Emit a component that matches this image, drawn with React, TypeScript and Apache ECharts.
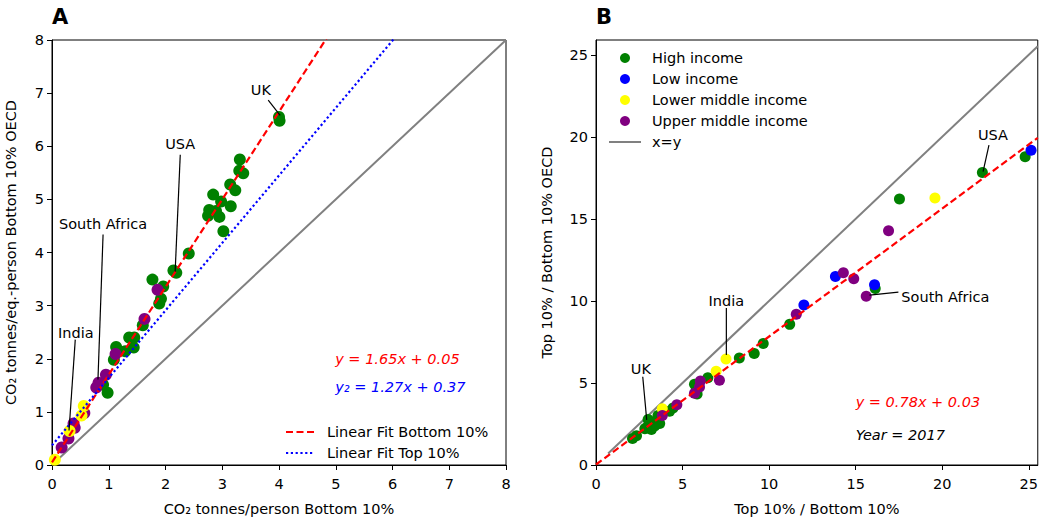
import React, { useEffect, useRef } from "react";
import * as echarts from "echarts";

// ---------- Panel A data: [CO2 tonnes/person Bottom 10%, CO2 tonnes/eq.-person Bottom 10% OECD]
const highA: number[][] = [
  [4.0, 6.55], [4.01, 6.48], [3.31, 5.75], [3.3, 5.54], [3.37, 5.49], [3.14, 5.28], [3.23, 5.17],
  [2.84, 5.09], [2.98, 4.96], [3.15, 4.87], [2.77, 4.8], [2.89, 4.78], [2.75, 4.69], [2.95, 4.67],
  [3.02, 4.4], [2.41, 3.98], [2.14, 3.66], [2.19, 3.62], [1.77, 3.49], [1.96, 3.36], [1.92, 3.13],
  [1.89, 3.04], [1.6, 2.63], [1.36, 2.4], [1.45, 2.4], [1.44, 2.21], [1.29, 2.14], [1.13, 2.22],
  [1.09, 1.98], [0.9, 1.51], [0.98, 1.36],
];
const upperA: number[][] = [
  [1.86, 3.3], [1.63, 2.75], [1.12, 2.09], [0.95, 1.7], [0.82, 1.55], [0.78, 1.46], [0.57, 0.98],
  [0.38, 0.78], [0.4, 0.7], [0.29, 0.5], [0.17, 0.33],
];
const lowerA: number[][] = [[0.56, 1.11], [0.52, 0.93], [0.31, 0.64], [0.05, 0.1]];

// ---------- Panel B data: [Top 10% / Bottom 10%, Top 10% / Bottom 10% OECD]
const highB: number[][] = [
  [24.79, 18.78], [22.32, 17.82], [17.53, 16.21], [16.13, 10.75], [11.19, 8.57], [9.66, 7.4],
  [9.14, 6.8], [8.28, 6.52], [6.46, 5.32], [5.69, 4.92], [5.84, 4.33], [4.45, 3.47], [4.25, 3.27],
  [3.68, 2.53], [3.01, 2.77], [3.06, 2.27], [3.39, 2.37], [2.82, 2.21], [2.34, 1.78], [2.11, 1.61],
  [3.58, 3.01], [3.1, 2.67], [2.91, 2.27], [3.2, 2.17],
];
const lowB: number[][] = [[25.13, 19.18], [13.83, 11.49], [16.09, 10.99], [12.01, 9.75]];
const lowerB: number[][] = [[19.58, 16.27], [7.51, 6.46], [6.94, 5.72], [3.83, 3.43]];
const upperB: number[][] = [
  [16.9, 14.27], [14.29, 11.72], [14.89, 11.35], [15.61, 10.29], [11.57, 9.19], [7.13, 5.16],
  [6.03, 5.12], [5.98, 4.76], [5.69, 4.37], [4.67, 3.67], [3.83, 3.01],
];

// fit coefficients [slope, intercept]
const fitBottomA = [1.65, 0.05];
const fitTopA = [1.27, 0.37];
const fitB = [0.78, 0.03];

const ticksA = [0, 1, 2, 3, 4, 5, 6, 7, 8];
const ticksB = [0, 5, 10, 15, 20, 25];

// annotations (data coordinates): label position, line start, line end
const annA = [
  { text: "UK", at: [3.68, 7.05], from: [3.81, 6.87], to: [4.02, 6.58] },
  { text: "USA", at: [2.26, 6.04], from: [2.26, 5.84], to: [2.17, 3.64] },
  { text: "South Africa", at: [0.9, 4.54], from: [0.9, 4.34], to: [0.81, 1.61] },
  { text: "India", at: [0.42, 2.48], from: [0.41, 2.36], to: [0.3, 0.65] },
];
const annB = [
  { text: "UK", at: [2.59, 5.85], from: [2.7, 5.38], to: [2.93, 2.75] },
  { text: "India", at: [7.53, 10.0], from: [7.53, 9.57], to: [7.53, 6.7] },
  { text: "South Africa", at: [17.64, 10.25], from: [17.47, 10.53], to: [15.8, 10.35], left: true },
  { text: "USA", at: [22.93, 20.1], from: [22.7, 19.5], to: [22.36, 17.88] },
];

const FONT = "DejaVu Sans";
const FS = 14.5;
const GREEN = "#008000";
const BLUE = "#0000ff";
const YELLOW = "#ffff00";
const PURPLE = "#800080";
const GRAY = "#808080";
const RED = "#ff0000";

const X_MAX_A = 8;
const Y_MAX_A = 8;
const X_MAX_B = 25.52;
const Y_MAX_B = 25.9;

function axis(gridIndex: number, min: number, max: number, ticks: number[], name: string, nameGap: number, labelMargin: number) {
  return {
    gridIndex,
    type: "value",
    min,
    max,
    name,
    nameLocation: "middle",
    nameGap,
    nameTextStyle: { color: "#000", fontSize: FS, fontFamily: FONT },
    axisLine: { show: true, onZero: false, lineStyle: { color: "#000", width: 1 } },
    axisTick: { show: true, length: 5, customValues: ticks, lineStyle: { color: "#000", width: 1 } },
    axisLabel: { color: "#000", fontSize: FS, fontFamily: FONT, margin: labelMargin, customValues: ticks },
    splitLine: { show: false },
  };
}

function scatter(name: string, data: number[][], color: string, idx: number, size: number) {
  return {
    type: "scatter",
    name,
    data,
    xAxisIndex: idx,
    yAxisIndex: idx,
    symbol: "circle",
    symbolSize: size,
    itemStyle: { color, opacity: 1 },
    z: 2,
    silent: true,
  };
}

function line(name: string, data: number[][], color: string, type: any, width: number, idx: number, z = 3) {
  return {
    type: "line",
    name,
    data,
    xAxisIndex: idx,
    yAxisIndex: idx,
    symbol: "none",
    lineStyle: { color, type, width, cap: "butt" },
    itemStyle: { color },
    z,
    silent: true,
    clip: true,
  };
}

const plainLabel = {
  color: "#000",
  fontSize: FS,
  fontFamily: FONT,
  textBorderWidth: 0,
  textShadowBlur: 0,
};

function annotations(list: any[], idx: number) {
  const out: any[] = [];
  list.forEach((a, i) => {
    out.push(line("ann" + idx + "_" + i, [a.from, a.to], "#000", "solid", 1.2, idx, 4));
  });
  out.push({
    type: "scatter",
    name: "annText" + idx,
    xAxisIndex: idx,
    yAxisIndex: idx,
    symbolSize: 0,
    itemStyle: { color: "#000", opacity: 1 },
    silent: true,
    z: 5,
    data: list.map((a) => ({
      value: a.at,
      name: a.text,
      label: a.left
        ? { ...plainLabel, show: true, position: "right", distance: 0, align: "left" }
        : { ...plainLabel, show: true, position: "inside" },
    })),
    label: { ...plainLabel, show: true, formatter: "{b}" },
  });
  return out;
}

function texts(list: { text: string; at: number[]; color: string }[], idx: number, name: string) {
  return {
    type: "scatter",
    name,
    xAxisIndex: idx,
    yAxisIndex: idx,
    symbolSize: 0,
    itemStyle: { color: "#000", opacity: 1 },
    silent: true,
    z: 5,
    data: list.map((t) => ({
      value: t.at,
      name: t.text,
      label: { ...plainLabel, color: t.color, fontStyle: "italic", show: true, position: "right", distance: 0 },
    })),
    label: {
      ...plainLabel,
      show: true,
      formatter: "{b}",
      position: "right",
      distance: 0,
      fontStyle: "italic",
    },
  };
}

function fitLine(coef: number[], x0: number, x1: number) {
  return [
    [x0, coef[0] * x0 + coef[1]],
    [x1, coef[0] * x1 + coef[1]],
  ];
}

const hiddenSymbol = { color: "rgba(0,0,0,0)", borderWidth: 0, opacity: 0 };

export default function App() {
  const ref = useRef<HTMLDivElement>(null);
  useEffect(() => {
    if (!ref.current) return;
    const chart = echarts.init(ref.current, null, { renderer: "svg" });
    const option: any = {
      animation: false,
      backgroundColor: "#fff",
      title: [
        { text: "A", left: 47, top: 1, textStyle: { fontSize: 21, fontWeight: "bold", color: "#000", fontFamily: FONT } },
        { text: "B", left: 591, top: 1, textStyle: { fontSize: 21, fontWeight: "bold", color: "#000", fontFamily: FONT } },
      ],
      grid: [
        { left: 52, top: 40, width: 454, height: 433, show: true, borderColor: "#000", borderWidth: 1, backgroundColor: "transparent" },
        { left: 596, top: 40, width: 444, height: 433, show: true, borderColor: "#000", borderWidth: 1, backgroundColor: "transparent" },
      ],
      xAxis: [
        axis(0, 0, X_MAX_A, ticksA, "CO₂ tonnes/person Bottom 10%", 36, 11),
        axis(1, 0, X_MAX_B, ticksB, "Top 10% / Bottom 10%", 36, 11),
      ],
      yAxis: [
        axis(0, 0, Y_MAX_A, ticksA, "CO₂ tonnes/eq.-person Bottom 10% OECD", 34, 8),
        axis(1, 0, Y_MAX_B, ticksB, "Top 10% / Bottom 10% OECD", 42, 8),
      ],
      legend: [
        {
          data: [
            { name: "Linear Fit Bottom 10%", itemStyle: hiddenSymbol },
            { name: "Linear Fit Top 10%", itemStyle: hiddenSymbol },
          ],
          orient: "vertical",
          left: 280,
          top: 419,
          itemWidth: 28,
          itemHeight: 14,
          itemGap: 5,
          selectedMode: false,
          textStyle: { color: "#000", fontSize: FS, fontFamily: FONT, lineHeight: 16, padding: [0, 0, 0, 8] },
        },
        {
          data: [
            "High income",
            "Low income",
            "Lower middle income",
            "Upper middle income",
            { name: "x=y", itemStyle: hiddenSymbol },
          ],
          orient: "vertical",
          left: 603,
          top: 45,
          itemWidth: 32,
          itemHeight: 10,
          itemGap: 5,
          selectedMode: false,
          textStyle: { color: "#000", fontSize: FS, fontFamily: FONT, lineHeight: 16, padding: [0, 0, 0, 6] },
        },
      ],
      series: [
        // Panel A
        scatter("A High", highA, GREEN, 0, 12),
        scatter("A Upper", upperA, PURPLE, 0, 12),
        scatter("A Lower", lowerA, YELLOW, 0, 12),
        line("identityA", [[0, 0], [X_MAX_A, X_MAX_A]], GRAY, "solid", 2, 0, 1),
        line("Linear Fit Bottom 10%", fitLine(fitBottomA, 0, X_MAX_A), RED, [7, 3.5], 2.2, 0),
        line("Linear Fit Top 10%", fitLine(fitTopA, 0, X_MAX_A), BLUE, [2.2, 2.6], 2.2, 0),
        ...annotations(annA, 0),
        texts(
          [
            { text: "y = 1.65x + 0.05", at: [4.99, 2.0], color: RED },
            { text: "y₂ = 1.27x + 0.37", at: [4.99, 1.47], color: BLUE },
          ],
          0,
          "eqA"
        ),
        // Panel B
        line("x=y", [[0.7, 0.7], [X_MAX_B, X_MAX_B]], GRAY, "solid", 2, 1, 1),
        scatter("High income", highB, GREEN, 1, 11),
        scatter("Low income", lowB, BLUE, 1, 11),
        scatter("Lower middle income", lowerB, YELLOW, 1, 11),
        scatter("Upper middle income", upperB, PURPLE, 1, 11),
        line("fitB", fitLine(fitB, 0, X_MAX_B), RED, [7, 3.5], 2.2, 1),
        ...annotations(annB, 1),
        texts(
          [
            { text: "y = 0.78x + 0.03", at: [15.0, 3.85], color: RED },
            { text: "Year = 2017", at: [15.0, 1.8], color: "#000" },
          ],
          1,
          "eqB"
        ),
      ],
    };
    chart.setOption(option);
    return () => chart.dispose();
  }, []);
  return (
    <div
      ref={ref}
      style={{ position: "absolute", left: 0, top: 0, width: 1041, height: 521, background: "#fff" }}
    />
  );
}
